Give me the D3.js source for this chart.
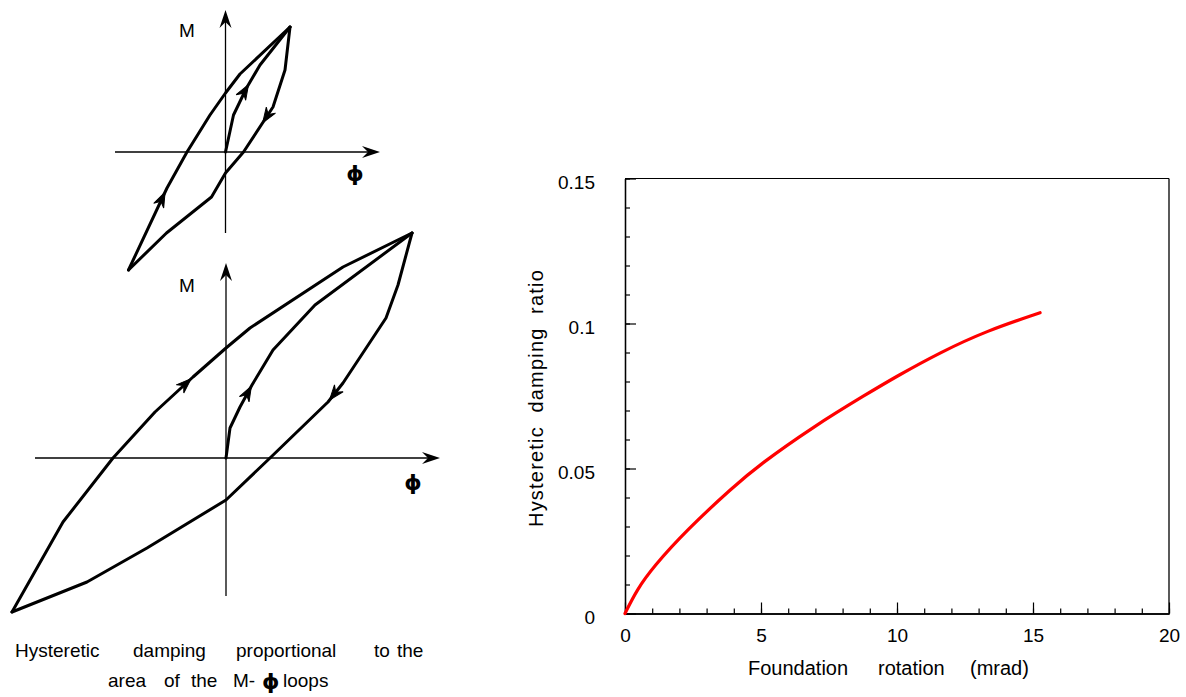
<!DOCTYPE html>
<html>
<head>
<meta charset="utf-8">
<script src="https://cdn.jsdelivr.net/npm/d3@7"></script>
<style>
    body { margin: 0; background: #ffffff; }
    svg { display: block; font-family: "Liberation Sans", Arial, sans-serif; }
    text { white-space: pre; }
</style>
</head>
<body>
<svg id="chart" width="1186" height="697"></svg>
<script>
// ---- right chart data ----
let rotation = [0, 0.43, 1.04, 2.27, 3.98, 4.96, 6.92, 8.89, 9.99, 11.58, 13.3, 15.26];
let damping  = [0, 0.0081, 0.0161, 0.0288, 0.0437, 0.0514, 0.0644, 0.0757, 0.0818, 0.0900, 0.0975, 0.1037];
let xMajor = [0, 5, 10, 15, 20];
let yMajor = [0, 0.05, 0.1, 0.15];
let yTickLabels = ['0', '0.05', '0.1', '0.15'];

// ---- M-phi loops (phi, M in drawing units) ----
let smallUpper  = [[-9.7, -11.8], [-5.85, -3.6], [-3.85, 0], [-1.55, 3.7], [0, 5.9], [1.45, 7.8], [6.45, 12.5]];
let smallLower  = [[6.45, 12.5], [5.95, 8.2], [4.75, 4.5], [1.8, 0], [0, -2.1], [-1.4, -4.5], [-5.9, -8.1], [-9.7, -11.8]];
let smallVirgin = [[0, 0], [0.8, 3.7], [2.1, 6.4], [3.45, 8.7], [6.45, 12.5]];

let bigUpper  = [[-21.4, -15.4], [-16.3, -6.4], [-11.3, 0], [-7.1, 4.6], [-3.3, 8.1], [0, 11.0], [2.4, 13.0], [11.7, 19.1], [18.6, 22.5]];
let bigLower  = [[18.6, 22.5], [17.2, 17.3], [16.0, 14.0], [11.7, 7.5], [10.2, 5.6], [4.4, 0], [0, -4.2], [-7.9, -9.0], [-13.9, -12.4], [-21.4, -15.4]];
let bigVirgin = [[0, 0], [0.4, 3.0], [1.4, 5.1], [2.6, 7.3], [4.7, 10.8], [8.9, 15.3], [18.6, 22.5]];

let svg = d3.select('#chart');

function arrowPath (len, half, notch) {
    return 'M0,0 L' + (-len) + ',' + (-half) + ' L' + (-notch) + ',0 L' + (-len) + ',' + half + ' Z';
}

function drawLoopPanel (panel) {
    let x = d3.scaleLinear().domain(panel.phiDomain).range(panel.xRange);
    let y = d3.scaleLinear().domain(panel.mDomain).range(panel.yRange);
    let g = svg.append('g').attr('class', 'loop');

    // axes
    g.append('line')
        .attr('x1', x(panel.phiDomain[0])).attr('x2', x(panel.phiDomain[1]) - 6)
        .attr('y1', y(0)).attr('y2', y(0))
        .attr('stroke', '#000').attr('stroke-width', 1.3);
    g.append('line')
        .attr('x1', x(0)).attr('x2', x(0))
        .attr('y1', y(panel.mDomain[0])).attr('y2', y(panel.mDomain[1]) + 6)
        .attr('stroke', '#000').attr('stroke-width', 1.3);
    g.append('path')
        .attr('d', arrowPath(18, 6, 12))
        .attr('transform', 'translate(' + x(panel.phiDomain[1]) + ',' + y(0) + ')')
        .attr('fill', '#000');
    g.append('path')
        .attr('d', arrowPath(18, 6, 12))
        .attr('transform', 'translate(' + x(0) + ',' + y(panel.mDomain[1]) + ') rotate(-90)')
        .attr('fill', '#000');

    g.append('text')
        .attr('x', panel.mLabel[0]).attr('y', panel.mLabel[1])
        .attr('text-anchor', 'middle')
        .attr('font-size', 19)
        .text('M');
    g.append('text')
        .attr('x', panel.phiLabel[0]).attr('y', panel.phiLabel[1])
        .attr('text-anchor', 'middle')
        .attr('font-family', 'DejaVu Sans')
        .attr('font-weight', 'bold')
        .attr('font-size', 22)
        .text('\u03D5');

    let line = d3.line()
        .x((d) => { return x(d[0]); })
        .y((d) => { return y(d[1]); });

    let branches = panel.branches;
    for (let key of Object.keys(branches)) {
        g.append('path')
            .attr('d', line(branches[key]))
            .attr('fill', 'none')
            .attr('stroke', '#000')
            .attr('stroke-width', 3)
            .attr('stroke-linejoin', 'round')
            .attr('stroke-linecap', 'round');
    }

    for (let a of panel.arrows) {
        let pts = branches[a[0]];
        let p0 = pts[a[1]];
        let p1 = pts[a[1] + 1];
        let x0 = x(p0[0]), y0 = y(p0[1]);
        let x1 = x(p1[0]), y1 = y(p1[1]);
        let px = x0 + (x1 - x0) * a[2];
        let py = y0 + (y1 - y0) * a[2];
        let ang = Math.atan2(y1 - y0, x1 - x0) * 180 / Math.PI;
        g.append('path')
            .attr('d', arrowPath(15, 5.5, 10))
            .attr('transform', 'translate(' + px + ',' + py + ') rotate(' + ang + ')')
            .attr('fill', '#000')
            .attr('stroke', '#000')
            .attr('stroke-width', 1);
    }
}

drawLoopPanel({
    phiDomain: [-11.05, 15.45], xRange: [115, 380],
    mDomain: [-8.1, 14.2], yRange: [233, 10],
    mLabel: [187, 37], phiLabel: [355, 181],
    branches: { upper: smallUpper, lower: smallLower, virgin: smallVirgin },
    arrows: [['upper', 0, 0.95], ['virgin', 2, 0.15], ['lower', 2, 0.35]]
});

drawLoopPanel({
    phiDomain: [-19.1, 21.4], xRange: [35, 440],
    mDomain: [-13.8, 19.5], yRange: [596, 263],
    mLabel: [187, 292], phiLabel: [413, 490],
    branches: { upper: bigUpper, lower: bigLower, virgin: bigVirgin },
    arrows: [['upper', 3, 0.95], ['virgin', 2, 0.95], ['lower', 3, 0.9]]
});

// caption under the loops
let caption = [
    { t: 'Hysteretic', x: 15, y: 657 },
    { t: 'damping', x: 133, y: 657 },
    { t: 'proportional', x: 236, y: 657 },
    { t: 'to', x: 374, y: 657 },
    { t: 'the', x: 397, y: 657 },
    { t: 'area', x: 108, y: 687 },
    { t: 'of', x: 164, y: 687 },
    { t: 'the', x: 191, y: 687 },
    { t: 'M-', x: 233, y: 687 },
    { t: 'loops', x: 283, y: 687 }
];
svg.append('g').selectAll('text')
    .data(caption)
    .enter()
    .append('text')
    .attr('x', (d) => { return d.x; })
    .attr('y', (d) => { return d.y; })
    .attr('font-size', 19)
    .text((d) => { return d.t; });
svg.append('text')
    .attr('x', 262).attr('y', 689)
    .attr('font-family', 'DejaVu Sans')
    .attr('font-weight', 'bold')
    .attr('font-size', 22)
    .text('\u03D5');

// ---- right chart ----
let xs = d3.scaleLinear().domain([0, 20]).range([625, 1169]);
let ys = d3.scaleLinear().domain([0, 0.15]).range([613.5, 178.5]);
let chart = svg.append('g').attr('class', 'damping');

// frame top/right
chart.append('line')
    .attr('x1', xs(0)).attr('x2', xs(20)).attr('y1', ys(0.15)).attr('y2', ys(0.15))
    .attr('stroke', '#000').attr('stroke-width', 1);
chart.append('line')
    .attr('x1', xs(20)).attr('x2', xs(20)).attr('y1', ys(0.15)).attr('y2', ys(0))
    .attr('stroke', '#000').attr('stroke-width', 1.3);

let xMinor = d3.range(0, 21, 1);
let yMinor = d3.range(0, 0.1501, 0.01);

chart.append('g')
    .attr('transform', 'translate(0,' + ys(0) + ')')
    .call(d3.axisBottom(xs).tickValues(xMinor).tickSize(-5).tickSizeOuter(0).tickFormat(''));
chart.append('g')
    .attr('class', 'xmajor')
    .attr('transform', 'translate(0,' + ys(0) + ')')
    .call(d3.axisBottom(xs).tickValues(xMajor).tickSize(-11).tickSizeOuter(0).tickPadding(15)
        .tickFormat(d3.format('d')));
chart.append('g')
    .attr('transform', 'translate(' + xs(0) + ',0)')
    .call(d3.axisLeft(ys).tickValues(yMinor).tickSize(-5).tickSizeOuter(0).tickFormat(''));
chart.append('g')
    .attr('class', 'ymajor')
    .attr('transform', 'translate(' + xs(0) + ',0)')
    .call(d3.axisLeft(ys).tickValues(yMajor).tickSize(-11).tickSizeOuter(0).tickPadding(30)
        .tickFormat((d, i) => { return yTickLabels[i]; }));

chart.selectAll('.domain').attr('stroke', '#000').attr('stroke-width', 1.3);
chart.selectAll('.tick line').attr('stroke', '#000').attr('stroke-width', 1.2);
chart.selectAll('.tick text')
    .attr('font-family', '"Liberation Sans", Arial, sans-serif')
    .attr('font-size', 19)
    .attr('fill', '#000');
chart.selectAll('.ymajor .tick text').attr('dy', '0.5em');

let curve = d3.line()
    .x((d, i) => { return xs(rotation[i]); })
    .y((d) => { return ys(d); })
    .curve(d3.curveBasis);

chart.append('path')
    .attr('d', curve(damping))
    .attr('fill', 'none')
    .attr('stroke', '#ff0000')
    .attr('stroke-width', 3.2)
    .attr('stroke-linecap', 'round');

chart.append('text')
    .attr('transform', 'translate(543,398) rotate(-90)')
    .attr('text-anchor', 'middle')
    .attr('font-size', 20)
    .attr('letter-spacing', 1.2)
    .text('Hysteretic  damping  ratio');

let xLabel = [
    { t: 'Foundation', x: 748 },
    { t: 'rotation', x: 878 },
    { t: '(mrad)', x: 970 }
];
chart.append('g').selectAll('text')
    .data(xLabel)
    .enter()
    .append('text')
    .attr('x', (d) => { return d.x; })
    .attr('y', 675)
    .attr('font-size', 20)
    .text((d) => { return d.t; });
</script>
</body>
</html>
